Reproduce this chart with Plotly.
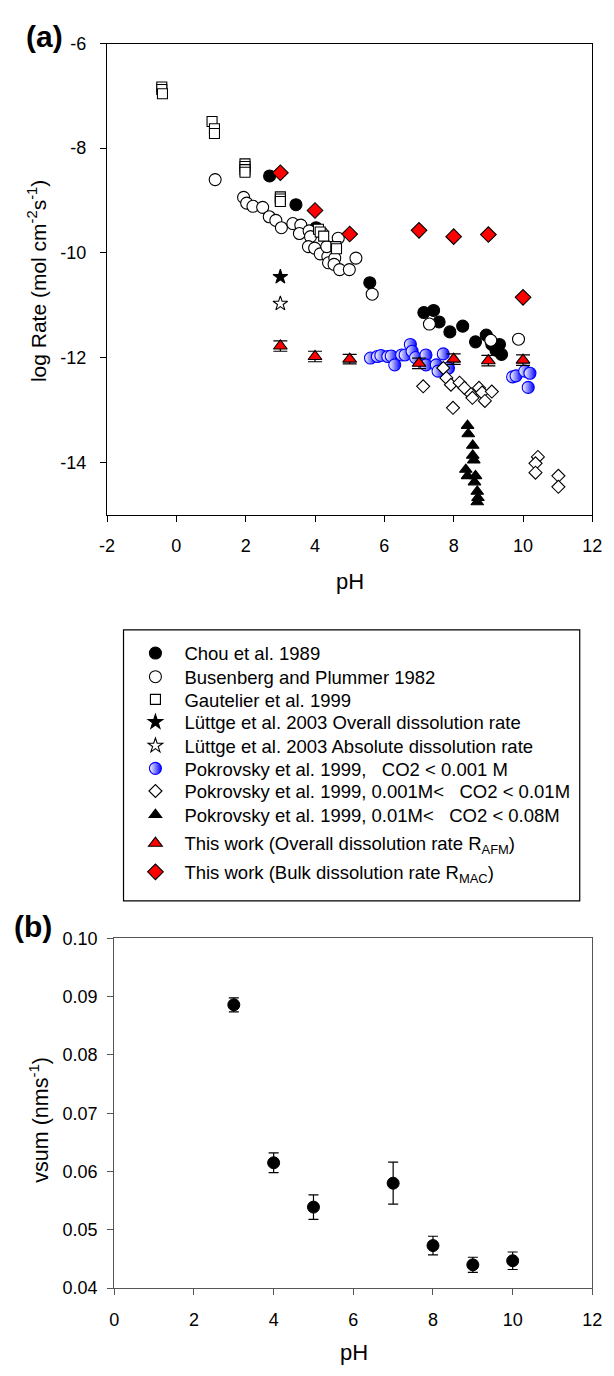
import plotly.graph_objects as go

W, H = 614, 1376

# ---------------- Panel (a) data ----------------
chou_ph = [2.69, 3.45, 4.03, 5.58, 7.14, 7.42, 7.58, 7.89, 8.26, 8.63, 8.94, 9.10, 9.22, 9.32, 9.38]
chou_rate = [-8.53, -9.08, -9.52, -10.57, -11.14, -11.10, -11.32, -11.51, -11.40, -11.70, -11.57, -11.75, -11.86, -11.75, -11.94]

bus_ph = [1.12, 1.94, 2.03, 2.21, 2.49, 2.68, 2.87, 3.03, 3.36, 3.59, 3.55, 3.83, 3.87, 3.81, 3.99,
          4.15, 4.37, 4.39, 4.57, 4.55, 4.71, 4.67, 4.99, 5.18, 5.65, 4.34, 4.20, 7.30, 9.07, 9.87]
bus_rate = [-8.60, -8.94, -9.05, -9.11, -9.13, -9.31, -9.38, -9.52, -9.44, -9.47, -9.63, -9.58, -9.69, -9.88, -9.91,
            -10.02, -10.07, -10.19, -10.10, -10.22, -10.32, -9.72, -10.32, -10.10, -10.79, -9.88, -9.62, -11.36, -11.67, -11.65]

gau_ph = [-0.42, -0.42, -0.40, 1.03, 1.10, 1.10, 1.98, 1.98, 1.98, 1.98, 3.0, 3.0, 3.0, 4.10, 4.15, 4.25, 4.60, 4.62]
gau_rate = [-6.83, -6.88, -6.96, -7.49, -7.63, -7.72, -8.30, -8.35, -8.41, -8.46, -8.93, -8.97, -9.02, -9.55, -9.60, -9.68, -9.88, -9.92]

lut_overall_ph = [3.0]
lut_overall_rate = [-10.46]
lut_abs_ph = [3.0]
lut_abs_rate = [-10.97]

pok1_ph = [5.60, 5.80, 5.90, 6.10, 6.20, 6.30, 6.50, 6.60, 6.75, 6.80, 6.90, 7.20, 7.20, 7.50, 7.55, 7.70, 7.85,
           9.70, 9.80, 10.05, 10.20, 10.15]
pok1_rate = [-12.01, -11.98, -11.96, -11.98, -11.97, -12.14, -11.95, -11.95, -11.75, -11.88, -12.00, -11.95, -12.14,
             -12.14, -12.26, -11.93, -12.20, -12.37, -12.35, -12.26, -12.30, -12.57]

pok2_ph = [7.12, 7.70, 7.79, 7.92, 8.17, 8.31, 8.50, 8.54, 8.73, 8.82, 8.90, 9.10, 7.98, 10.43, 10.36, 10.36, 11.02, 11.02]
pok2_rate = [-12.55, -12.20, -12.39, -12.52, -12.48, -12.58, -12.70, -12.77, -12.58, -12.67, -12.83, -12.65, -12.96,
             -13.90, -14.02, -14.20, -14.26, -14.47]

pok3_ph = [8.40, 8.42, 8.55, 8.55, 8.58, 8.35, 8.40, 8.63, 8.60, 8.68, 8.70, 8.68]
pok3_rate = [-13.30, -13.46, -13.68, -13.87, -13.96, -14.14, -14.26, -14.26, -14.38, -14.56, -14.68, -14.76]

afm_ph = [3, 4, 5, 7, 8, 9, 10]
afm_rate = [-11.78, -11.98, -12.03, -12.11, -12.03, -12.06, -12.05]
afm_err = [0.10, 0.10, 0.09, 0.10, 0.10, 0.10, 0.10]

mac_ph = [3, 4, 5, 7, 8, 9, 10]
mac_rate = [-8.47, -9.19, -9.64, -9.57, -9.69, -9.65, -10.85]

# ---------------- Panel (b) data ----------------
b_ph = [3, 4, 5, 7, 8, 9, 10]
b_vsum = [0.0886, 0.0615, 0.0539, 0.0580, 0.0473, 0.0440, 0.0447]
b_err = [0.0012, 0.0017, 0.0021, 0.0036, 0.0016, 0.0013, 0.0015]

x_ticks_a = [-2, 0, 2, 4, 6, 8, 10, 12]
x_labels_a = ["-2", "0", "2", "4", "6", "8", "10", "12"]
y_ticks_a = [-14, -12, -10, -8, -6]
y_labels_a = ["-14", "-12", "-10", "-8", "-6"]
x_ticks_b = [0, 2, 4, 6, 8, 10, 12]
y_ticks_b = [0.04, 0.05, 0.06, 0.07, 0.08, 0.09, 0.10]

FONT = "Liberation Sans, Arial, sans-serif"
LW = 1.1

# legend row centres (pixels from top), one per legend entry
legend_rows = [653, 677, 700, 723, 747, 770, 793, 817, 846, 875]

fig = go.Figure()
_count = [0]

def next_legend():
    i = _count[0]
    _count[0] += 1
    return "legend" if i == 0 else "legend%d" % (i + 1)

def add(x, y, name, symbol, size, color, lcolor="black", lw=LW, gradient=None, **kw):
    marker = dict(symbol=symbol, size=size, color=color, line=dict(color=lcolor, width=lw))
    if gradient:
        marker["gradient"] = gradient
    fig.add_trace(go.Scatter(
        x=x, y=y, mode="markers", name=name, xaxis="x", yaxis="y",
        legend=next_legend(), marker=marker, **kw))

add(chou_ph, chou_rate, "Chou et al. 1989", "circle", 12, "black")
add(bus_ph, bus_rate, "Busenberg and Plummer 1982", "circle", 12, "white")
add(gau_ph, gau_rate, "Gautelier et al. 1999", "square", 10, "white")
add(lut_overall_ph, lut_overall_rate, "Lüttge et al. 2003 Overall dissolution rate", "star", 11, "black")
add(lut_abs_ph, lut_abs_rate, "Lüttge et al. 2003 Absolute dissolution rate", "star", 11, "white")
add(pok1_ph, pok1_rate, "Pokrovsky et al. 1999,   CO2 &lt; 0.001 M", "circle", 12, "white",
    lcolor="blue", gradient=dict(type="horizontal", color="blue"))
add(pok2_ph, pok2_rate, "Pokrovsky et al. 1999, 0.001M&lt;   CO2 &lt; 0.01M", "diamond", 10, "white")
add(pok3_ph, pok3_rate, "Pokrovsky et al. 1999, 0.01M&lt;   CO2 &lt; 0.08M", "triangle-up", 11, "black")
add(afm_ph, afm_rate, "This work (Overall dissolution rate R<sub>AFM</sub>)", "triangle-up", 12, "red",
    error_y=dict(type="data", array=afm_err, color="black", thickness=1.2, width=7))
add(mac_ph, mac_rate, "This work (Bulk dissolution rate R<sub>MAC</sub>)", "diamond", 12, "red")

fig.add_trace(go.Scatter(
    x=b_ph, y=b_vsum, mode="markers", showlegend=False, xaxis="x2", yaxis="y2",
    marker=dict(symbol="circle", size=12, color="black", line=dict(color="black", width=1)),
    error_y=dict(type="data", array=b_err, color="black", thickness=1.2, width=5)))

def px_x(px):
    return px / W

def px_y(py):
    return 1 - py / H

tickfont = dict(family=FONT, size=18, color="black")

def ann(text, px, py, size, bold=False, angle=0):
    return dict(text=("<b>%s</b>" % text) if bold else text, textangle=angle,
                x=px_x(px), y=px_y(py), xref="paper", yref="paper",
                xanchor="center", yanchor="middle", showarrow=False,
                font=dict(family=FONT, size=size, color="black"))

legends = {}
for i, row in enumerate(legend_rows):
    key = "legend" if i == 0 else "legend%d" % (i + 1)
    legends[key] = dict(x=px_x(122), y=px_y(row), xanchor="left", yanchor="middle",
                        font=dict(family=FONT, size=18.5, color="black"),
                        bgcolor="rgba(0,0,0,0)", borderwidth=0, itemwidth=48)

fig.update_layout(
    width=W, height=H, margin=dict(l=0, r=0, t=0, b=0),
    paper_bgcolor="white", plot_bgcolor="white",
    font=dict(family=FONT, color="black"),
    showlegend=True,
    xaxis=dict(domain=[px_x(102), px_x(602)], range=[-2, 12], tickvals=x_ticks_a, ticktext=x_labels_a,
               showgrid=False, zeroline=False, showline=True, linecolor="black", linewidth=LW,
               mirror=True, ticks="outside", ticklen=6, tickcolor="black", tickwidth=LW,
               tickfont=tickfont, anchor="y", ticklabelstandoff=9),
    yaxis=dict(domain=[px_y(512), px_y(34)], range=[-15, -6], tickvals=y_ticks_a, ticktext=y_labels_a,
               showgrid=False, zeroline=False, showline=True, linecolor="black", linewidth=LW,
               mirror=True, ticks="outside", ticklen=6, tickcolor="black", tickwidth=LW,
               tickfont=tickfont, anchor="x", ticklabelstandoff=10),
    xaxis2=dict(domain=[px_x(109.5), px_x(602)], range=[0, 12], tickvals=x_ticks_b,
                showgrid=False, zeroline=False, showline=True, linecolor="#555", linewidth=LW,
                mirror=True, ticks="outside", ticklen=6, tickcolor="#555", tickwidth=LW,
                tickfont=tickfont, anchor="y2", ticklabelstandoff=9),
    yaxis2=dict(domain=[px_y(1297), px_y(942)], range=[0.04, 0.10], tickvals=y_ticks_b,
                tickformat=".2f",
                showgrid=False, zeroline=False, showline=True, linecolor="#555", linewidth=LW,
                mirror=True, ticks="outside", ticklen=6, tickcolor="#555", tickwidth=LW,
                tickfont=tickfont, anchor="x2", ticklabelstandoff=6),
    shapes=[dict(type="rect", xref="paper", yref="paper",
                 x0=px_x(119), x1=px_x(589), y0=px_y(904), y1=px_y(629),
                 line=dict(color="black", width=1.2), fillcolor="rgba(0,0,0,0)")],
    annotations=[
        ann("(a)", 38, 27, 30, bold=True),
        ann("(b)", 26, 930, 30, bold=True),
        ann("log Rate (mol cm<sup>-2</sup>s<sup>-1</sup>)", 30, 275, 21, angle=-90),
        ann("pH", 352, 580, 22),
        ann("vsum (nms<sup>-1</sup>)", 32, 1126, 21.5, angle=-90),
        ann("pH", 356, 1362, 22),
    ],
    **legends,
)

fig.write_html("out.html")
